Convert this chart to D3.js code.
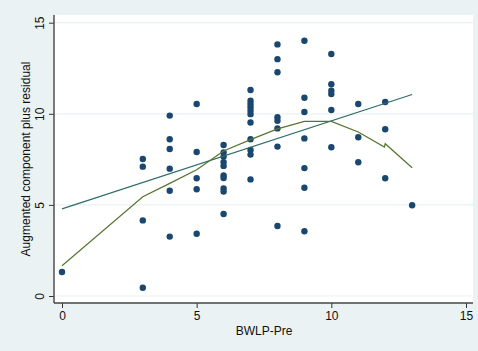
<!DOCTYPE html>
<html>
<head>
<meta charset="utf-8">
<script src="https://cdn.jsdelivr.net/npm/d3@7"></script>
<style>
  html, body { margin: 0; padding: 0; background: #eaf2f3; }
  svg { display: block; font-family: "Liberation Sans", Arial, sans-serif; }
</style>
</head>
<body>
<div id="root"></div>
<script>
// BWLP-Pre (x) and augmented component plus residual (y), one entry per observation
const bwlpPre = [
  0,
  3, 3, 3, 3,
  4, 4, 4, 4, 4, 4,
  5, 5, 5, 5, 5,
  6, 6, 6, 6, 6, 6, 6, 6, 6, 6,
  7, 7, 7, 7, 7, 7, 7, 7, 7, 7, 7,
  8, 8, 8, 8, 8, 8, 8, 8,
  9, 9, 9, 9, 9, 9, 9,
  10, 10, 10, 10, 10, 10,
  11, 11, 11,
  12, 12, 12,
  13
];
const acpr = [
  1.32,
  7.52, 7.10, 4.15, 0.45,
  9.90, 8.60, 8.07, 6.99, 5.78, 3.26,
  10.54, 7.90, 6.46, 5.86, 3.42,
  8.29, 7.88, 7.65, 7.35, 7.14, 6.62, 6.48, 5.90, 5.73, 4.50,
  11.31, 10.72, 10.54, 10.36, 10.17, 9.98, 9.52, 8.60, 8.02, 7.76, 6.40,
  13.81, 13.00, 12.28, 9.81, 9.62, 9.20, 8.20, 3.84,
  14.01, 10.88, 10.10, 8.65, 7.02, 5.94, 3.55,
  13.28, 11.62, 11.27, 11.08, 10.21, 8.16,
  10.54, 8.71, 7.34,
  10.65, 9.15, 6.46,
  4.98
];

// linear fit
const fitX = [0, 13];
const fitY = [4.78, 11.06];

// lowess smooth
const lowessX = [0, 3, 4, 5, 6, 7, 8, 9, 10, 11, 11.97, 12, 13];
const lowessY = [1.66, 5.45, 6.18, 6.93, 7.96, 8.58, 9.17, 9.58, 9.58, 9.0, 8.18, 8.36, 7.04];

const xTicks = [0, 5, 10, 15];
const yTicks = [0, 5, 10, 15];

const width = 478;
const height = 351;
const plot = { left: 54, right: 473, top: 15, bottom: 303 };

const svg = d3.select("#root")
  .append("svg")
    .attr("width", width)
    .attr("height", height);

svg.append("rect")
    .attr("width", width)
    .attr("height", height)
    .attr("fill", "#eaf2f3");

svg.append("rect")
    .attr("x", plot.left)
    .attr("y", plot.top)
    .attr("width", plot.right - plot.left)
    .attr("height", plot.bottom - plot.top)
    .attr("fill", "#ffffff");

const xScale = d3.scaleLinear().domain([0, 15]).range([62, 466]);
const yScale = d3.scaleLinear().domain([0, 15]).range([296, 22.7]);

// horizontal grid lines
svg.append("g")
  .selectAll("line")
  .data(yTicks)
  .enter()
  .append("line")
    .attr("x1", plot.left)
    .attr("x2", plot.right)
    .attr("y1", d => yScale(d))
    .attr("y2", d => yScale(d))
    .attr("stroke", "#eaf2f3")
    .attr("stroke-width", 1.2);

// axes
const yAxis = svg.append("g")
    .attr("transform", `translate(${plot.left},0)`)
    .call(d3.axisLeft(yScale).tickValues(yTicks).tickSize(5).tickPadding(8));
const xAxis = svg.append("g")
    .attr("transform", `translate(0,${plot.bottom})`)
    .call(d3.axisBottom(xScale).tickValues(xTicks).tickSize(5).tickPadding(3));

[xAxis, yAxis].forEach(ax => {
  ax.select(".domain").remove();
  ax.selectAll(".tick line").attr("stroke", "#333").attr("stroke-width", 1);
  ax.selectAll("text")
    .attr("fill", "#111")
    .style("font-size", "12px")
    .style("font-family", "'Liberation Sans', Arial, sans-serif");
});

// stata prints y labels vertically
yAxis.selectAll(".tick text")
    .attr("x", null)
    .attr("dy", null)
    .attr("text-anchor", "middle")
    .attr("transform", "translate(-10,0) rotate(-90)");

svg.append("line")
    .attr("x1", plot.left).attr("x2", plot.left)
    .attr("y1", plot.top).attr("y2", plot.bottom)
    .attr("stroke", "#444").attr("stroke-width", 1.4);
svg.append("line")
    .attr("x1", plot.left).attr("x2", plot.right)
    .attr("y1", plot.bottom).attr("y2", plot.bottom)
    .attr("stroke", "#444").attr("stroke-width", 1.4);

// scatter
svg.append("g")
  .selectAll("circle")
  .data(bwlpPre.map((x, i) => ({ x, y: acpr[i] })))
  .enter()
  .append("circle")
    .attr("cx", d => xScale(d.x))
    .attr("cy", d => yScale(d.y))
    .attr("r", 3.2)
    .attr("fill", "#1a476f");

const lineGen = d3.line()
  .x(d => xScale(d[0]))
  .y(d => yScale(d[1]));

svg.append("path")
    .attr("d", lineGen(fitX.map((x, i) => [x, fitY[i]])))
    .attr("fill", "none")
    .attr("stroke", "#2d6d66")
    .attr("stroke-width", 1.2);

svg.append("path")
    .attr("d", lineGen(lowessX.map((x, i) => [x, lowessY[i]])))
    .attr("fill", "none")
    .attr("stroke", "#55752f")
    .attr("stroke-width", 1.2);

// titles
svg.append("text")
    .text("BWLP-Pre")
    .attr("x", (xScale(0) + xScale(15)) / 2)
    .attr("y", 335)
    .attr("text-anchor", "middle")
    .style("font-size", "12px")
    .attr("fill", "#111");

svg.append("text")
    .text("Augmented component plus residual")
    .attr("transform", `translate(30, ${(plot.top + plot.bottom) / 2}) rotate(-90)`)
    .attr("text-anchor", "middle")
    .style("font-size", "12px")
    .attr("fill", "#111");
</script>
</body>
</html>
